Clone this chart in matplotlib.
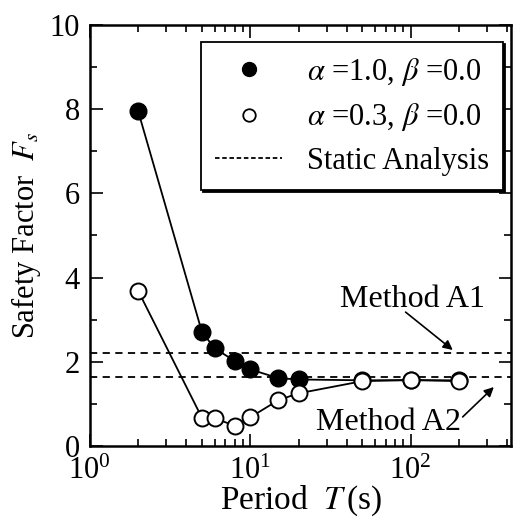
import matplotlib
matplotlib.use('Agg')
import matplotlib.pyplot as plt
from matplotlib.lines import Line2D
from matplotlib.ticker import MultipleLocator, LogLocator, NullFormatter

plt.rcParams['font.family'] = ['Liberation Serif', 'DejaVu Serif']
plt.rcParams['mathtext.fontset'] = 'stix'

# period T (s)
T = [2, 5, 6, 8, 10, 15, 20, 50, 100, 200]
# safety factor, alpha=1.0, beta=0.0
fs_a10 = [7.96, 2.71, 2.32, 2.02, 1.82, 1.61, 1.58, 1.56, 1.56, 1.56]
# safety factor, alpha=0.3, beta=0.0
fs_a03 = [3.69, 0.67, 0.66, 0.48, 0.68, 1.09, 1.25, 1.54, 1.57, 1.54]
# static analysis
fs_A1 = 2.22
fs_A2 = 1.63

fig = plt.figure(figsize=(5.13, 5.21), dpi=100)
ax = fig.add_axes([0.175, 0.144, 0.822, 0.808])

ax.plot(T, fs_a10, '-', color='black', lw=1.3, marker='o', ms=12,
        mfc='black', mec='black', zorder=3)
ax.plot(T, fs_a03, '-', color='black', lw=1.3, marker='o', ms=11.5,
        mfc='white', mec='black', mew=1.4, zorder=4)
ax.axhline(fs_A1, color='black', ls=(0, (4, 3)), lw=1.3, zorder=2)
ax.axhline(fs_A2, color='black', ls=(0, (4, 3)), lw=1.3, zorder=2)

ax.set_xscale('log')
ax.set_xlim(1, 425)
ax.set_ylim(0, 10)
ax.yaxis.set_major_locator(MultipleLocator(2))
ax.yaxis.set_minor_locator(MultipleLocator(1))
ax.xaxis.set_major_locator(LogLocator(base=10, numticks=10))
ax.xaxis.set_minor_locator(LogLocator(base=10, subs=range(2, 10), numticks=20))
ax.xaxis.set_minor_formatter(NullFormatter())
ax.tick_params(which='both', direction='in', top=True, right=True,
               labelsize=22, width=1.2)
ax.tick_params(which='major', length=9)
ax.tick_params(which='minor', length=5)
ax.tick_params(axis='x', which='major', pad=8)
ax.tick_params(axis='y', which='major', pad=7)
for s in ax.spines.values():
    s.set_linewidth(1.8)

ax.set_xlabel(r'Period  $T\,$(s)', fontsize=24, labelpad=-2)
ax.set_ylabel(r'Safety Factor  $F_s$', fontsize=22, labelpad=5)

# Method A1 / A2 labels with arrows
ax.text(103, 3.47, 'Method A1', fontsize=23, ha='center', va='center')
ax.annotate('', xy=(183, 2.28), xytext=(93, 3.18),
            arrowprops=dict(arrowstyle='-|>', color='black', lw=1.2,
                            mutation_scale=14, shrinkA=0, shrinkB=0))
ax.text(73, 0.55, 'Method A2', fontsize=23, ha='center', va='center')
ax.annotate('', xy=(330, 1.40), xytext=(211, 0.69),
            arrowprops=dict(arrowstyle='-|>', color='black', lw=1.2,
                            mutation_scale=14, shrinkA=0, shrinkB=0))

handles = [
    Line2D([], [], ls='none', marker='o', ms=10, mfc='black', mec='black'),
    Line2D([], [], ls='none', marker='o', ms=9, mfc='white', mec='black', mew=1.3),
    Line2D([], [], ls=(0, (2.5, 1.5)), color='black', lw=1.3),
]
labels = [r'$\alpha$ =1.0, $\beta$ =0.0', r'$\alpha$ =0.3, $\beta$ =0.0',
          'Static Analysis']
leg = ax.legend(handles, labels, loc='upper right', bbox_to_anchor=(0.979, 0.96),
                borderaxespad=0, fontsize=22, frameon=True, fancybox=False,
                shadow={'ox': 1.5, 'oy': -1.5, 'color': 'black', 'alpha': 1},
                handlelength=2.2, handletextpad=0.8,
                labelspacing=0.45, borderpad=0.45)
leg.get_frame().set_edgecolor('black')
leg.get_frame().set_linewidth(1.3)

fig.savefig('out.png', dpi=100)
